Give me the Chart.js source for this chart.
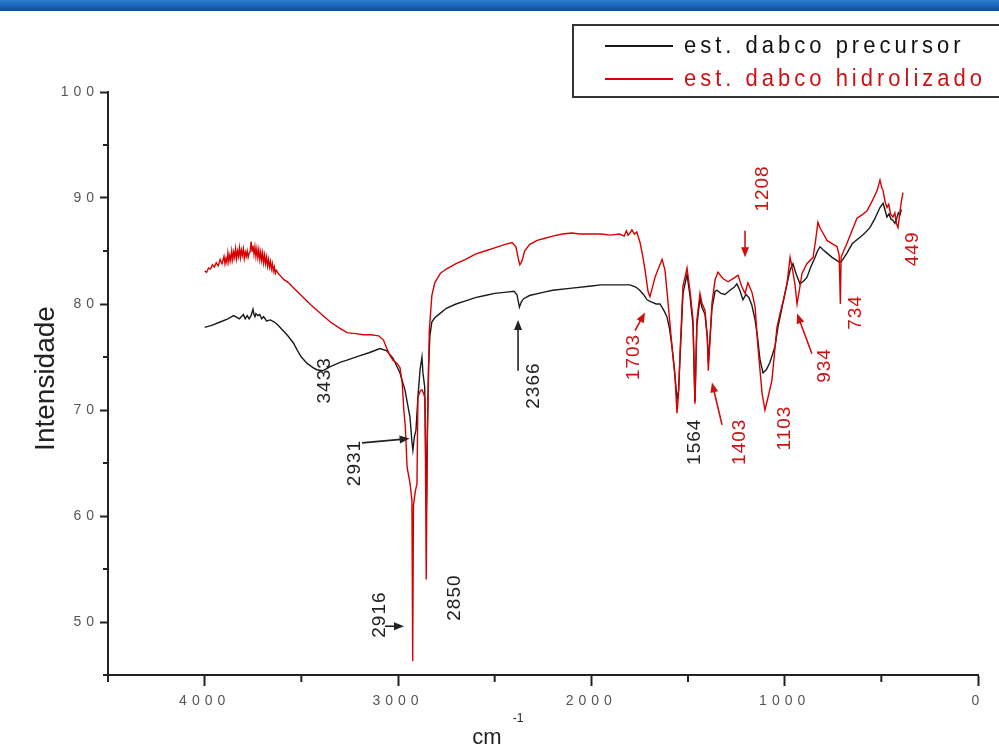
<!DOCTYPE html>
<html>
<head>
<meta charset="utf-8">
<title>est. dabco IR</title>
<script src="https://cdn.jsdelivr.net/npm/chart.js@4.4.0/dist/chart.umd.min.js"></script>
<style>
  html, body { margin: 0; padding: 0; background: #fff; }
</style>
</head>
<body>
<canvas id="irChart" width="999" height="746"></canvas>
<script>
// series labels
var seriesLabels = ["est. dabco precursor", "est. dabco hidrolizado"];

// precursor (black) - wavenumber / intensity
var precursorWn = [4000,3960,3920,3880,3850,3820,3800,3790,3780,3770,3760,3750,3745,3740,3735,3725,3715,3705,3695,3680,
  3660,3640,3620,3600,3570,3540,3520,3500,3470,3440,3420,3390,3350,3300,3264,3200,3150,3093,3060,3026,
  2990,2964,2950,2938,2928,2923,2915,2907,2897,2886,2876,2871,2862,2857,2853,2849,2842,2835,2825,2810,
  2790,2750,2700,2650,2600,2550,2500,2450,2400,2385,2372,2362,2350,2320,2250,2200,2100,2000,1950,1900,
  1850,1800,1770,1750,1730,1712,1690,1665,1645,1625,1609,1595,1583,1570,1557,1549,1541,1526,1505,1490,
  1474,1464,1454,1438,1428,1412,1400,1395,1388,1376,1360,1350,1330,1309,1283,1260,1247,1230,1216,1200,
  1185,1170,1153,1140,1128,1112,1095,1076,1050,1034,1010,988,972,957,940,921,900,885,865,843,
  830,817,800,781,755,729,716,703,678,650,610,585,559,535,507,491,480,471,460,450,
  440,430,420,412,404,396];
var precursorInt = [77.8,78.0,78.3,78.6,78.9,78.6,79.0,78.6,78.9,78.6,78.9,79.5,79.0,78.8,79.1,78.9,79.0,78.6,78.8,78.4,
  78.5,78.3,78.0,77.6,77.0,76.3,75.6,75.0,74.4,74.0,73.8,73.7,74.1,74.5,74.7,75.1,75.4,75.8,75.6,74.9,
  73.5,71.9,70.5,69.3,67.0,66.2,67.5,68.1,71.2,73.8,75.0,73.5,72.2,66.0,61.0,66.5,74.0,77.0,78.3,78.7,
  79.0,79.6,80.0,80.3,80.6,80.8,81.0,81.1,81.2,80.9,79.7,80.2,80.5,80.8,81.1,81.3,81.5,81.7,81.8,81.8,
  81.8,81.8,81.6,81.3,80.9,80.4,80.2,80.0,80.0,79.4,78.8,77.6,76.0,73.8,71.0,71.8,75.0,81.0,82.8,80.8,
  78.0,70.8,78.0,80.5,79.7,79.0,76.8,74.5,76.3,79.6,81.2,81.3,81.0,80.9,81.3,81.6,81.9,81.2,80.4,80.9,
  80.6,79.9,78.5,76.8,74.8,73.5,73.8,74.5,76.0,77.9,80.0,81.9,83.2,83.8,82.8,81.9,82.2,82.5,83.5,84.4,
  85.0,85.4,85.1,84.8,84.4,84.1,83.9,84.1,84.8,85.7,86.3,86.7,87.2,88.0,89.1,89.5,88.8,88.2,88.5,88.0,
  87.9,87.6,88.1,88.6,88.4,88.9];

// hidrolizado (red) - wavenumber / intensity
var hidroWn = [4000,3990,3980,3970,3960,3950,3940,3930,3920,3910,3900,3895,3890,3885,3880,3875,3870,3865,3860,3855,
  3850,3845,3840,3835,3830,3825,3820,3815,3810,3805,3800,3795,3790,3785,3780,3775,3770,3765,3760,3755,
  3750,3745,3740,3735,3730,3725,3720,3715,3710,3705,3700,3695,3690,3685,3680,3675,3670,3665,3660,3655,
  3650,3645,3640,3635,3630,3620,3610,3590,3565,3550,3500,3450,3400,3350,3300,3264,3220,3180,3140,3100,
  3075,3060,3040,3026,3005,2990,2978,2970,2962,2953,2938,2928,2924,2920,2910,2902,2897,2885,2876,2866,
  2860,2854,2848,2838,2825,2810,2780,2750,2700,2650,2600,2550,2500,2450,2410,2390,2378,2370,2360,2345,
  2320,2280,2240,2200,2150,2100,2060,2000,1950,1900,1855,1830,1819,1810,1800,1790,1777,1765,1748,1735,
  1722,1707,1697,1685,1671,1650,1634,1619,1603,1583,1567,1557,1549,1541,1526,1505,1490,1474,1464,1454,
  1438,1428,1412,1400,1395,1388,1376,1360,1345,1319,1293,1267,1241,1221,1205,1190,1169,1153,1138,1117,
  1102,1086,1066,1040,1024,1005,988,972,960,947,936,925,910,885,853,840,828,815,802,781,
  755,729,718,712,708,695,678,650,626,600,574,545,522,507,498,491,480,471,462,452,
  440,430,422,414,408,403,396,388];
var hidroInt = [83.1,83.0,83.4,83.3,83.7,83.5,83.9,83.6,84.2,83.8,84.5,83.8,84.3,83.9,84.8,84.0,84.6,84.1,85.0,84.2,
  84.9,84.4,85.2,84.3,85.0,84.5,85.3,84.4,85.1,84.6,85.2,84.3,84.9,84.5,85.0,84.4,84.8,84.9,85.9,85.0,
  85.5,84.7,85.4,84.5,85.2,84.4,85.1,84.2,84.9,84.1,84.8,83.9,84.6,83.8,84.4,83.6,84.2,83.5,84.0,83.3,
  83.8,83.1,83.5,82.9,83.2,82.9,82.7,82.3,82.0,81.7,80.8,79.9,79.1,78.3,77.7,77.3,77.2,77.1,77.1,77.0,
  76.6,75.9,75.1,74.7,74.4,74.0,72.5,70.0,68.4,64.6,63.1,61.5,46.3,61.0,62.4,63.0,71.2,71.8,71.9,71.5,
  71.0,54.0,68.1,77.5,80.8,82.0,82.9,83.3,83.8,84.2,84.7,85.0,85.3,85.6,85.8,85.4,84.3,83.7,84.0,85.0,
  85.6,86.0,86.2,86.4,86.6,86.7,86.6,86.6,86.6,86.5,86.6,86.4,86.9,86.5,86.7,87.0,86.6,86.8,85.8,84.6,
  83.2,81.2,80.7,81.5,82.5,83.5,84.2,83.2,80.1,76.0,73.1,69.7,71.5,75.4,81.7,83.4,81.3,78.5,70.6,78.5,
  81.0,80.1,79.4,76.9,73.7,76.0,80.1,82.3,83.0,82.4,82.1,82.4,82.7,81.6,81.0,82.0,81.1,79.7,75.9,71.6,
  70.0,71.2,72.8,77.8,79.1,80.5,81.9,84.4,83.3,81.9,80.0,81.2,82.9,83.8,84.4,86.0,87.7,87.1,86.7,86.0,
  85.7,85.4,84.6,80.0,84.4,85.0,85.7,87.0,88.1,88.4,88.8,89.8,90.7,91.7,91.0,90.7,89.6,89.1,89.4,88.5,
  88.2,88.6,87.6,87.2,88.0,88.8,89.7,90.5];

// peak labels written on the spectrum
var peakLabels = ["3433","2931","2916","2850","2366","1703","1564","1403","1208","1103","934","734","449"];

// where each peak label sits (data units: wavenumber, intensity) + optional arrow
var noteLayout = [
  { at: [3378, 72.8], color: "#222" },
  { at: [3222, 65.0], color: "#222", arrow: [[3186, 66.9], [2940, 67.3]] },
  { at: [3093, 50.7], color: "#222", arrow: [[3067, 49.6], [2969, 49.6]] },
  { at: [2705, 52.3], color: "#222" },
  { at: [2297, 72.3], color: "#222", arrow: [[2379, 73.7], [2379, 78.5]] },
  { at: [1779, 75.0], color: "#cc1111", arrow: [[1774, 77.5], [1722, 79.2]] },
  { at: [1464, 67.0], color: "#222" },
  { at: [1231, 67.0], color: "#cc1111", arrow: [[1324, 68.6], [1376, 72.6]] },
  { at: [1112, 90.9], color: "#cc1111", arrow: [[1205, 86.9], [1205, 84.4]] },
  { at: [998, 68.3], color: "#cc1111" },
  { at: [791, 74.2], color: "#cc1111", arrow: [[859, 75.3], [936, 79.1]] },
  { at: [631, 79.2], color: "#cc1111" },
  { at: [336, 85.2], color: "#cc1111" }
];

var BLACK = "#1a1a1a";
var RED = "rgb(215,0,0)";

function toPoints(xs, ys) {
  return xs.map(function (x, i) { return { x: x, y: ys[i] }; });
}

function drawText(ctx, txt, x, y, o) {
  ctx.save();
  ctx.translate(x, y);
  if (o.rotate) ctx.rotate(o.rotate);
  ctx.scale(o.sx || 1, o.sy || 1);
  ctx.font = o.font;
  ctx.letterSpacing = (o.spacing || 0) + "px";
  ctx.fillStyle = o.color;
  ctx.textAlign = o.align || "center";
  ctx.textBaseline = o.baseline || "middle";
  ctx.fillText(txt, 0, 0);
  ctx.restore();
}

function drawArrow(ctx, p1, p2, color) {
  var ang = Math.atan2(p2[1] - p1[1], p2[0] - p1[0]);
  var c = Math.cos(ang), s = Math.sin(ang);
  ctx.save();
  ctx.strokeStyle = color;
  ctx.fillStyle = color;
  ctx.lineWidth = 1.6;
  ctx.beginPath();
  ctx.moveTo(p1[0], p1[1]);
  ctx.lineTo(p2[0] - 6 * c, p2[1] - 6 * s);
  ctx.stroke();
  ctx.beginPath();
  ctx.moveTo(p2[0], p2[1]);
  ctx.lineTo(p2[0] - 10 * c + 4 * s, p2[1] - 10 * s - 4 * c);
  ctx.lineTo(p2[0] - 10 * c - 4 * s, p2[1] - 10 * s + 4 * c);
  ctx.closePath();
  ctx.fill();
  ctx.restore();
}

var decorPlugin = {
  id: "decor",
  beforeDraw: function (chart) {
    var ctx = chart.ctx;
    ctx.save();
    ctx.fillStyle = "#fff";
    ctx.fillRect(0, 0, chart.width, chart.height);
    // blue banner at the top
    var g = ctx.createLinearGradient(0, 0, 0, 11);
    g.addColorStop(0, "#2b7fd0");
    g.addColorStop(1, "#0b4f9e");
    ctx.fillStyle = g;
    ctx.fillRect(0, 0, chart.width, 11);
    ctx.restore();
    // spaced digits on the axis labels
    ctx.letterSpacing = "5px";
  },
  beforeDatasetsDraw: function (chart) {
    chart.ctx.letterSpacing = "0px";
  },
  afterDraw: function (chart) {
    var ctx = chart.ctx;
    var xs = chart.scales.x, ys = chart.scales.y;
    var area = chart.chartArea;

    // minor ticks
    ctx.save();
    ctx.strokeStyle = "#222";
    ctx.lineWidth = 2;
    xs.ticks.forEach(function (t) {
      if (t.value % 1000 !== 0) {
        var px = xs.getPixelForValue(t.value);
        ctx.beginPath();
        ctx.moveTo(px, area.bottom);
        ctx.lineTo(px, area.bottom + 7);
        ctx.stroke();
      }
    });
    ys.ticks.forEach(function (t) {
      if (t.value % 10 !== 0) {
        var py = ys.getPixelForValue(t.value);
        ctx.beginPath();
        ctx.moveTo(area.left - 5, py);
        ctx.lineTo(area.left, py);
        ctx.stroke();
      }
    });
    ctx.restore();

    // axis titles
    drawText(ctx, "Intensidade", 46, (area.top + area.bottom) / 2 - 5,
      { font: "28px 'Liberation Sans', Arial, sans-serif", color: "#222", rotate: -Math.PI / 2 });
    drawText(ctx, "cm", 487, 744,
      { font: "22px 'Liberation Sans', Arial, sans-serif", color: "#222", baseline: "alphabetic" });
    drawText(ctx, "-1", 518, 719,
      { font: "12px 'Liberation Sans', Arial, sans-serif", color: "#222" });

    // peak notes
    peakLabels.forEach(function (lbl, i) {
      var n = noteLayout[i];
      if (n.arrow) {
        var a = [xs.getPixelForValue(n.arrow[0][0]), ys.getPixelForValue(n.arrow[0][1])];
        var b = [xs.getPixelForValue(n.arrow[1][0]), ys.getPixelForValue(n.arrow[1][1])];
        drawArrow(ctx, a, b, n.color);
      }
      drawText(ctx, lbl, xs.getPixelForValue(n.at[0]), ys.getPixelForValue(n.at[1]),
        { font: "19px 'Liberation Sans', Arial, sans-serif", color: n.color,
          rotate: -Math.PI / 2, spacing: 1 });
    });

    // legend box
    ctx.save();
    ctx.strokeStyle = "#333";
    ctx.lineWidth = 2;
    ctx.strokeRect(573, 25, 440, 72);
    var rows = [46, 79];
    chart.data.datasets.forEach(function (ds, i) {
      ctx.strokeStyle = ds.borderColor;
      ctx.lineWidth = 2;
      ctx.beginPath();
      ctx.moveTo(605, rows[i]);
      ctx.lineTo(673, rows[i]);
      ctx.stroke();
      drawText(ctx, ds.label, 684, rows[i],
        { font: "22px 'Liberation Sans', Arial, sans-serif", color: i === 0 ? "#111" : "#cc1111",
          align: "left", spacing: 4, sy: 1.1 });
    });
    ctx.restore();
  }
};

new Chart(document.getElementById("irChart"), {
  type: "line",
  data: {
    datasets: [
      {
        label: seriesLabels[0],
        data: toPoints(precursorWn, precursorInt),
        borderColor: BLACK,
        borderWidth: 1.4,
        pointRadius: 0,
        tension: 0,
        order: 1
      },
      {
        label: seriesLabels[1],
        data: toPoints(hidroWn, hidroInt),
        borderColor: RED,
        borderWidth: 1.4,
        pointRadius: 0,
        tension: 0,
        order: 0
      }
    ]
  },
  options: {
    responsive: false,
    animation: false,
    events: [],
    layout: { padding: { top: 92, right: 21, left: 0, bottom: 0 } },
    plugins: {
      legend: { display: false },
      tooltip: { enabled: false }
    },
    scales: {
      x: {
        type: "linear",
        reverse: true,
        min: 0,
        max: 4500,
        afterFit: function (scale) { scale.height = 71; },
        border: { display: true, color: "#222", width: 2 },
        grid: {
          drawOnChartArea: false,
          drawTicks: true,
          tickLength: 11,
          tickWidth: 2,
          tickColor: function (c) {
            return c.tick && c.tick.value % 1000 === 0 ? "#222" : "rgba(0,0,0,0)";
          }
        },
        ticks: {
          stepSize: 500,
          autoSkip: false,
          maxRotation: 0,
          padding: 7,
          color: "#555",
          font: { family: "'Liberation Sans', Arial, sans-serif", size: 14 },
          callback: function (v) { return v % 1000 === 0 ? String(v) : ""; }
        }
      },
      y: {
        type: "linear",
        min: 45,
        max: 100,
        afterFit: function (scale) { scale.width = 108; },
        border: { display: true, color: "#222", width: 2 },
        grid: {
          drawOnChartArea: false,
          drawTicks: true,
          tickLength: 8,
          tickWidth: 2,
          tickColor: function (c) {
            return c.tick && c.tick.value % 10 === 0 ? "#222" : "rgba(0,0,0,0)";
          }
        },
        ticks: {
          stepSize: 5,
          autoSkip: false,
          padding: 1,
          color: "#555",
          font: { family: "'Liberation Sans', Arial, sans-serif", size: 14 },
          callback: function (v) { return v % 10 === 0 ? String(v) : ""; }
        }
      }
    }
  },
  plugins: [decorPlugin]
});
</script>
</body>
</html>
